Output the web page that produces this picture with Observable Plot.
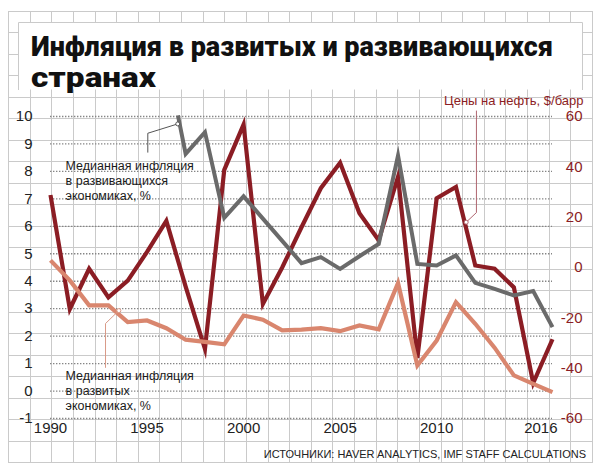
<!DOCTYPE html>
<html><head><meta charset="utf-8">
<script src="https://cdn.jsdelivr.net/npm/d3@7"></script>
<script src="https://cdn.jsdelivr.net/npm/@observablehq/plot@0.6"></script>
<style>
body{margin:0;background:#fff;}
#wrap{position:relative;width:601px;height:474px;overflow:hidden;}
#wrap > *{position:absolute;left:0;top:0;}
</style></head><body>
<div id="wrap"><svg id="paper" width="601" height="474"></svg><div id="chart"></div><svg id="deco" width="601" height="474"></svg></div>
<script>
// ---- data ----
const oilYears = [1990,1991,1992,1993,1994,1995,1996,1997,1998,1999,2000,2001,2002,2003,2004,2005,2006,2007,2008,2009,2010,2011,2012,2013,2014,2015,2016];
const oilValues = [28.8,-16.5,-0.5,-11.9,-5.2,6.2,18.5,-7.6,-32.4,38.8,56.8,-14.5,0,16,31.5,41.6,21.6,10.8,36.1,-36,27.5,32,0.8,-0.5,-7.9,-45.9,-28.5];

const developingYears = [1996.6,1997,1998,1999,2000,2001,2002,2003,2004,2005,2006,2007,2008,2009,2010,2011,2012,2013,2014,2015,2016];
const developingValues = [10.04,8.64,9.43,6.31,7.09,6.28,5.47,4.66,4.88,4.45,4.91,5.36,8.58,4.63,4.57,4.94,3.94,3.72,3.48,3.64,2.33];

const advancedYears = [1990,1991,1992,1993,1994,1995,1996,1997,1998,1999,2000,2001,2002,2003,2004,2005,2006,2007,2008,2009,2010,2011,2012,2013,2014,2015,2016];
const advancedValues = [4.76,4.03,3.12,3.12,2.51,2.57,2.29,1.87,1.79,1.70,2.75,2.60,2.21,2.24,2.29,2.18,2.39,2.25,3.93,0.93,1.84,3.24,2.45,1.58,0.57,0.26,-0.04];

const leftTicks = [-1,0,1,2,3,4,5,6,7,8,9,10];
const rightTicks = [60,40,20,0,-20,-40,-60];
const xTicks = [1990,1995,2000,2005,2010,2016];

const titleLines = ["Инфляция в развитых и развивающихся", "странах"];
const sourceText = "ИСТОЧНИКИ: HAVER ANALYTICS, IMF STAFF CALCULATIONS";
const oilLabel = "Цены на нефть, $/барр";
const annotations = [
  {year: 1990.78, value: 7.67, text: "Медианная инфляция\nв развивающихся\nэкономиках, %"},
  {year: 1990.78, value: 0.02, text: "Медианная инфляция\nв развитых\nэкономиках, %"}
];
const devLeader = [{year:1996.59,value:9.73},{year:1995.04,value:9.39},{year:1995.04,value:8.70}];
const oilLeader = [{year:2012.06,value:10.2},{year:2012.06,value:6.50},{year:2011.53,value:6.15}];
const advLeader = [{year:1992.85,value:0.86},{year:1992.85,value:2.46},{year:1993.54,value:2.93}];

// ---- build ----
const oilMin = -60, oilMax = 60, leftMin = -1, leftMax = 10;
const oilToLeft = o => leftMin + (o - oilMin) * (leftMax - leftMin) / (oilMax - oilMin);

const oil = oilYears.map((y, i) => ({year: y, value: oilToLeft(oilValues[i])}));
const developing = developingYears.map((y, i) => ({year: y, value: developingValues[i]}));
const advanced = advancedYears.map((y, i) => ({year: y, value: advancedValues[i]}));

const RED = "#8b1d24", GRAY = "#6a6a6a", SALMON = "#d9866e";
const FONT = "'Liberation Sans Narrow', 'Arial Narrow', sans-serif";

// graph paper background
(function(){
  const svg = d3.select("#paper");
  const x0 = 8, x1 = 592, y0 = 11, y1 = 462;
  const nx = 27, ny = 21;
  for (let i = 0; i <= nx; i++) {
    const x = Math.round(x0 + i * (x1 - x0) / nx) + 0.5;
    svg.append("line").attr("x1", x).attr("x2", x).attr("y1", y0).attr("y2", y1 + 1).attr("stroke", "#cacaca");
  }
  for (let j = 0; j <= ny; j++) {
    const y = Math.round(y0 + j * (y1 - y0) / ny) + 0.5;
    svg.append("line").attr("y1", y).attr("y2", y).attr("x1", x0).attr("x2", x1 + 1).attr("stroke", "#cacaca");
  }
})();

const chart = Plot.plot({
  width: 601, height: 474,
  marginLeft: 50, marginRight: 49, marginTop: 116, marginBottom: 56,
  x: {domain: [1990, 2016], axis: null},
  y: {domain: [leftMin, leftMax], axis: null},
  style: {background: "transparent", fontFamily: FONT, fontSize: "15px", overflow: "visible"},
  marks: [
    Plot.ruleY(leftTicks, {y: d => d, x1: 1990, x2: 2016, stroke: "#858585", strokeWidth: 1.3, strokeDasharray: "1.4,1.6"}),
    Plot.text(leftTicks, {y: d => d, text: d => String(d), frameAnchor: "left", textAnchor: "end", dx: -18, fill: "#222", fontSize: 15}),
    Plot.text(rightTicks, {y: d => oilToLeft(d), text: d => String(d), frameAnchor: "right", textAnchor: "end", dx: 30, fill: RED, fontSize: 15}),
    Plot.text(xTicks.slice(0, -1), {x: d => d, text: d => String(d), frameAnchor: "bottom", dy: 14, fill: "#222", fontSize: 15}),
    Plot.text(xTicks.slice(-1), {x: d => d, text: d => String(d), frameAnchor: "bottom", dy: 14, dx: 5, textAnchor: "end", fill: "#222", fontSize: 15}),
    Plot.line(oil, {x: "year", y: "value", stroke: RED, strokeWidth: 4.2, strokeLinejoin: "miter", strokeLinecap: "butt", strokeMiterlimit: 6}),
    Plot.line(developing, {x: "year", y: "value", stroke: GRAY, strokeWidth: 4, strokeLinejoin: "miter", strokeLinecap: "butt", strokeMiterlimit: 6}),
    Plot.line(advanced, {x: "year", y: "value", stroke: SALMON, strokeWidth: 4.2, strokeLinejoin: "miter", strokeLinecap: "butt", strokeMiterlimit: 6}),
    Plot.line(devLeader, {x: "year", y: "value", stroke: "#555", strokeWidth: 1}),
    Plot.line(oilLeader, {x: "year", y: "value", stroke: "#b06670", strokeWidth: 1}),
    Plot.line(advLeader, {x: "year", y: "value", stroke: "#d99a88", strokeWidth: 1}),
    Plot.dot([devLeader[0]], {x: "year", y: "value", r: 2, fill: "white", stroke: "#555", strokeWidth: 1}),
    Plot.dot([oilLeader[2]], {x: "year", y: "value", r: 2, fill: "white", stroke: "#b06670", strokeWidth: 1}),
    Plot.dot([advLeader[2]], {x: "year", y: "value", r: 2, fill: "white", stroke: "#d99a88", strokeWidth: 1}),
    Plot.text(annotations, {x: "year", y: "value", text: "text", textAnchor: "start", lineAnchor: "middle", lineHeight: 1.2, fill: "#1a1a1a", fontSize: 12.5}),
    Plot.text([oilLabel], {text: d => d, frameAnchor: "top-right", textAnchor: "end", dx: 31, dy: -21, fill: RED, fontSize: 13})
  ]
});
document.getElementById("chart").appendChild(chart);

// title box and source
(function(){
  const svg = d3.select("#deco");
  svg.append("rect").attr("x", 18.5).attr("y", 22.5).attr("width", 564).attr("height", 67).attr("fill", "white");
  svg.append("path").attr("d", "M18.5,90 V22.5 H582.5 V90").attr("fill", "none").attr("stroke", "#cacaca");
  const t = svg.append("text").attr("font-family", "Roboto, 'DejaVu Sans', sans-serif").attr("font-weight", 900)
    .attr("font-size", 27).attr("fill", "#111");
  t.append("tspan").attr("x", 31).attr("y", 56).attr("textLength", 522).attr("lengthAdjust", "spacingAndGlyphs").text(titleLines[0]);
  t.append("tspan").attr("x", 31).attr("y", 87).attr("textLength", 125).attr("lengthAdjust", "spacingAndGlyphs").text(titleLines[1]);
  svg.append("text").attr("x", 586).attr("y", 458).attr("text-anchor", "end")
    .attr("font-family", FONT).attr("font-size", 11).attr("fill", "#222").text(sourceText);
})();
</script>
</body></html>
